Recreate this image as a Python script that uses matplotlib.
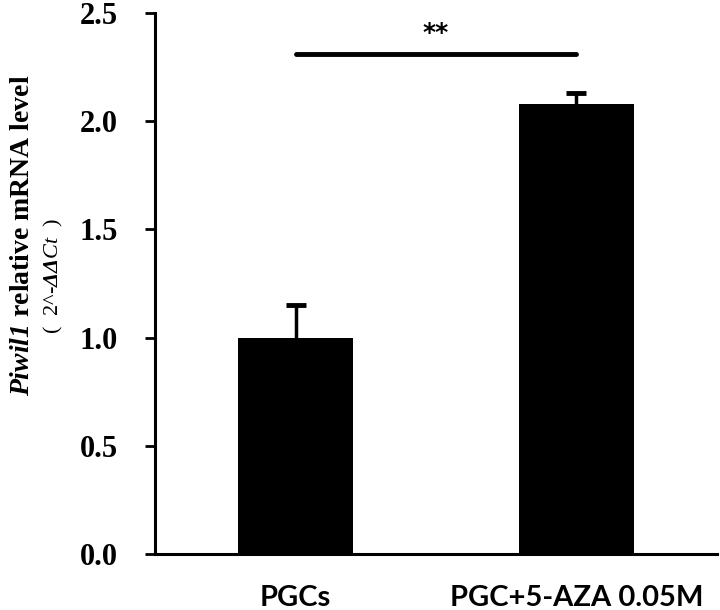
import matplotlib as mpl
mpl.use('Agg')
import matplotlib.pyplot as plt

groups = ['PGCs', 'PGC+5-AZA 0.05M']
means = [1.0, 2.08]
errors = [0.15, 0.05]
yticks = [0.0, 0.5, 1.0, 1.5, 2.0, 2.5]
sig_level = 2.31
sig_text = '**'

plt.rcParams['mathtext.fontset'] = 'custom'
plt.rcParams['mathtext.rm'] = 'Liberation Serif:italic:bold'
plt.rcParams['mathtext.it'] = 'Liberation Serif:italic'

fig = plt.figure(figsize=(7.2, 6.1), dpi=100)
ax = fig.add_axes([0.2153, 0.0918, 0.7805, 0.8869])

x = list(range(len(groups)))
ax.bar(x, means, width=0.41, color='black', zorder=2)
eb = ax.errorbar(x, means, yerr=[[0, 0], errors], fmt='none', ecolor='black',
                 elinewidth=2.5, capsize=7, capthick=3.5, zorder=1)
eb[1][0].set_visible(False)  # no cap at the bar top

ax.set_xlim(-0.5, 1.5)
ax.set_ylim(0, 2.5)
ax.set_yticks(yticks)
ax.set_yticklabels([f'{v:.1f}' for v in yticks], family='Liberation Serif',
                   fontweight='bold', fontsize=22)
ax.set_xticks(x)
ax.set_xticklabels(groups, family='Lato', fontweight='bold', fontsize=21)
ax.tick_params(axis='x', length=0, pad=22)
ax.tick_params(axis='y', direction='out', length=7, width=2, pad=20)

for side in ['top', 'right']:
    ax.spines[side].set_visible(False)
for side in ['left', 'bottom']:
    ax.spines[side].set_linewidth(2.2)

ax.plot(x, [sig_level, sig_level], color='black', lw=3.5,
        solid_capstyle='round', clip_on=False)
ax.text(sum(x) / 2, sig_level + 0.04, sig_text, ha='center', va='bottom',
        fontsize=18, fontweight='bold', family='DejaVu Sans')

fig.text(0.031, 0.615, r'$\mathrm{Piwil1}$ relative mRNA level', rotation=90,
         ha='center', va='center', family='Liberation Serif',
         fontweight='bold', fontsize=20)
fig.text(0.074, 0.548, r'(  2^-$\mathit{\Delta\Delta Ct}$  )', rotation=90,
         ha='center', va='center', family='Liberation Serif',
         fontsize=16)

fig.savefig('out.png', dpi=100)
